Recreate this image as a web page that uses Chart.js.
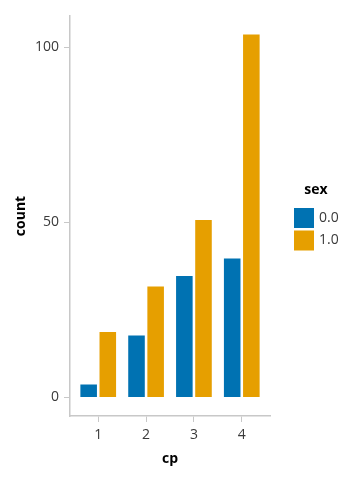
<!DOCTYPE html>
<html>
<head>
<meta charset="utf-8">
<script src="https://cdn.jsdelivr.net/npm/chart.js@4"></script>
<style>
  html, body { margin:0; padding:0; background:#fff; }
  #wrap { width:352px; height:481px; }
</style>
</head>
<body>
<div id="wrap"><canvas id="chart"></canvas></div>
<script>
// data
const cpValues = [1, 2, 3, 4];
const sexLabels = ['0.0', '1.0'];
const countSex0 = [4, 18, 35, 40];
const countSex1 = [19, 32, 51, 104];
const yTicks = [0, 50, 100];
const colors = ['#0072B2', '#E69F00'];

const FONT = "'Open Sans', 'Noto Sans', sans-serif";
const AXIS = '#c8c8c8';
const TICK_TXT = '#3a3a3a';

// legend drawn by hand so it sits where the reference has it
const sideLegend = {
  id: 'sideLegend',
  afterDraw(chart){
    const ctx = chart.ctx;
    ctx.save();
    ctx.fillStyle = '#000';
    ctx.font = 'bold 14px ' + FONT;
    ctx.textAlign = 'center'; ctx.textBaseline = 'middle';
    ctx.fillText('sex', 316, 190);
    chart.data.datasets.forEach((ds, i) => {
      const y = 208 + i * 22.5;
      ctx.fillStyle = ds.backgroundColor;
      ctx.fillRect(294, y, 20, 20);
      ctx.fillStyle = TICK_TXT;
      ctx.font = '14px ' + FONT;
      ctx.textAlign = 'left';
      ctx.fillText(ds.label, 319, y + 10);
    });
    ctx.restore();
  }
};

const toPoints = arr => arr.map((v, i) => ({ x: cpValues[i], y: v }));

new Chart(document.getElementById('chart'), {
  type: 'bar',
  data: {
    datasets: [
      { label: sexLabels[0], data: toPoints(countSex0), backgroundColor: colors[0] },
      { label: sexLabels[1], data: toPoints(countSex1), backgroundColor: colors[1] }
    ]
  },
  options: {
    responsive: true,
    maintainAspectRatio: false,
    animation: false,
    layout: { padding: { top: 16, right: 82, left: 0, bottom: 0 } },
    datasets: { bar: { categoryPercentage: 0.8, barPercentage: 0.97, borderWidth: 1, borderColor: 'rgba(255,255,255,0.35)' } },
    plugins: { legend: { display: false }, tooltip: { enabled: false } },
    scales: {
      x: {
        type: 'linear', min: 0.41, max: 4.59, offset: false,
        afterBuildTicks: s => { s.ticks = cpValues.map(v => ({ value: v })); },
        afterFit: s => { s.height = 65; },
        grid: { offset: false, drawOnChartArea: false, drawTicks: true, tickLength: 6, color: AXIS },
        border: { color: AXIS, width: 1.5 },
        ticks: { color: TICK_TXT, font: { family: FONT, size: 14 }, padding: 5, maxRotation: 0 },
        title: { display: true, text: 'cp', color: '#000', font: { family: FONT, size: 14, weight: 'bold' }, padding: { top: 0, bottom: 13.6 } }
      },
      y: {
        min: -5.3, max: 109,
        afterBuildTicks: s => { s.ticks = yTicks.map(v => ({ value: v })); },
        afterFit: s => { s.width = 70; },
        grid: { offset: false, drawOnChartArea: false, drawTicks: true, tickLength: 6, color: AXIS },
        border: { color: AXIS, width: 1.5 },
        ticks: { color: TICK_TXT, font: { family: FONT, size: 14 }, padding: 5 },
        title: { display: true, text: 'count', color: '#000', font: { family: FONT, size: 14, weight: 'bold' }, padding: { top: 12.6, bottom: 0 } }
      }
    }
  },
  plugins: [sideLegend]
});
</script>
</body>
</html>
